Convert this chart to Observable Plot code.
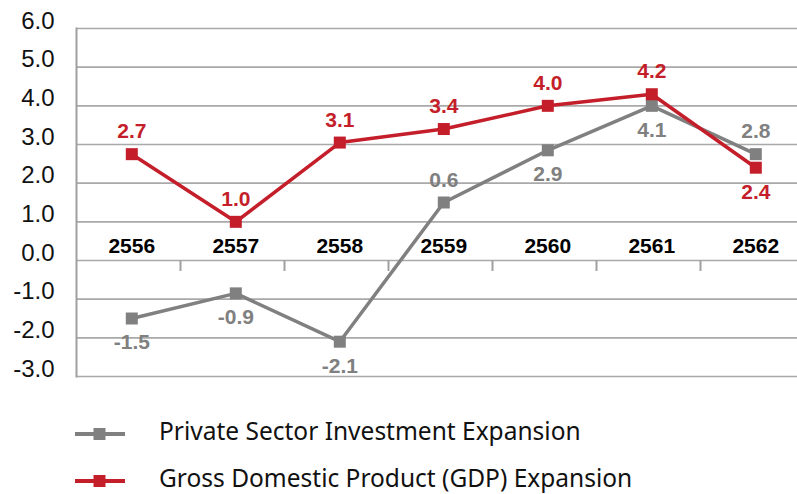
<!DOCTYPE html>
<html>
<head>
<meta charset="utf-8">
<script src="https://cdn.jsdelivr.net/npm/d3@7"></script>
<script src="https://cdn.jsdelivr.net/npm/@observablehq/plot@0.6"></script>
<style>
  html, body { margin: 0; padding: 0; background: #fff; }
  #wrap { position: relative; width: 797px; height: 494px; overflow: hidden; }
  #legend { position: relative; width: 797px; height: 94px; }
  .lg-sw { position: absolute; left: 75px; width: 50px; height: 14px; }
  .lg-tx { position: absolute; left: 159px; font-family: "Noto Sans", "Open Sans", sans-serif; font-size: 24.5px; line-height: 1; color: #111; white-space: nowrap; }
</style>
</head>
<body>
<div id="wrap"><div id="chart"></div><div id="legend"></div></div>
<script>
// ---- data ----
const years = ["2556", "2557", "2558", "2559", "2560", "2561", "2562"];
const investment = [-1.5, -0.85, -2.1, 1.5, 2.85, 4.0, 2.75];      // plotted positions
const investmentLabels = ["-1.5", "-0.9", "-2.1", "0.6", "2.9", "4.1", "2.8"];
const investmentLabelSide = ["below", "below", "below", "above", "below", "below", "above"];
const gdp = [2.75, 1.0, 3.05, 3.4, 4.0, 4.3, 2.4];
const gdpLabels = ["2.7", "1.0", "3.1", "3.4", "4.0", "4.2", "2.4"];
const gdpLabelSide = ["above", "above", "above", "above", "above", "above", "below"];
const yTicks = [-3, -2, -1, 0, 1, 2, 3, 4, 5, 6];
const seriesNames = ["Private Sector Investment Expansion", "Gross Domestic Product (GDP) Expansion"];
const colors = ["#808080", "#c41e2a"];

const inv = years.map((y, i) => ({year: y, value: investment[i], label: investmentLabels[i], side: investmentLabelSide[i]}));
const gd = years.map((y, i) => ({year: y, value: gdp[i], label: gdpLabels[i], side: gdpLabelSide[i]}));

const W = 797, H = 400, ML = 76;
const SHIFT = 3.3;
const R = 12 / Math.sqrt(Math.PI);
const labelFont = {fontFamily: "Liberation Sans, Arial, sans-serif", fontSize: 21, fontWeight: "bold"};

function seriesMarks(rows, color) {
  return [
    Plot.line(rows, {x: "year", y: "value", stroke: color, strokeWidth: 3.5, dx: SHIFT}),
    Plot.dot(rows, {x: "year", y: "value", symbol: "square", r: R, fill: color, stroke: "none", dx: SHIFT}),
    Plot.text(rows.filter(d => d.side === "above"), {x: "year", y: "value", text: "label", fill: color, lineAnchor: "bottom", dy: -16, dx: SHIFT, ...labelFont}),
    Plot.text(rows.filter(d => d.side === "below"), {x: "year", y: "value", text: "label", fill: color, lineAnchor: "top", dy: 16, dx: SHIFT, ...labelFont})
  ];
}

const chart = Plot.plot({
  width: W,
  height: H,
  marginLeft: ML,
  marginRight: 0,
  marginTop: 28,
  marginBottom: 24,
  style: {fontFamily: "Liberation Sans, Arial, sans-serif", background: "#fff", overflow: "visible"},
  x: {type: "band", domain: years, range: [ML, ML + 104 * years.length], padding: 0, axis: null},
  y: {domain: [-3, 6], axis: null},
  marks: [
    Plot.gridY(yTicks, {stroke: "#a9a9a9", strokeOpacity: 1, strokeWidth: 1.6}),
    Plot.frame({anchor: "left", stroke: "#a0a0a0", strokeWidth: 2}),
    Plot.ruleX(years.slice(1), {y1: 0, y2: 0, insetBottom: -11, dx: -52, stroke: "#a0a0a0", strokeWidth: 2}),
    Plot.text(yTicks, {y: d => d, frameAnchor: "left", dx: -22, textAnchor: "end", lineAnchor: "bottom", text: d => d.toFixed(1), fontSize: 24, fill: "#111"}),
    Plot.text(years, {x: d => d, y: () => 0, dx: SHIFT, dy: -8, lineAnchor: "bottom", text: d => d, fontSize: 21, fontWeight: "bold", fill: "#000"}),
    ...seriesMarks(inv, colors[0]),
    ...seriesMarks(gd, colors[1])
  ]
});
document.getElementById("chart").appendChild(chart);

// ---- legend ----
const legend = document.getElementById("legend");
const rowsY = [34, 81]; // symbol centre relative to legend top
seriesNames.forEach((name, i) => {
  const sw = document.createElementNS("http://www.w3.org/2000/svg", "svg");
  sw.setAttribute("class", "lg-sw");
  sw.setAttribute("width", 50);
  sw.setAttribute("height", 14);
  sw.style.top = (rowsY[i] - 7) + "px";
  sw.innerHTML = `<line x1="0" x2="50" y1="7" y2="7" stroke="${colors[i]}" stroke-width="4"/><rect x="18.5" y="1" width="12" height="12" fill="${colors[i]}"/>`;
  legend.appendChild(sw);
  const tx = document.createElement("div");
  tx.className = "lg-tx";
  tx.textContent = name;
  tx.style.top = (rowsY[i] - 15) + "px";
  legend.appendChild(tx);
});
</script>
</body>
</html>
